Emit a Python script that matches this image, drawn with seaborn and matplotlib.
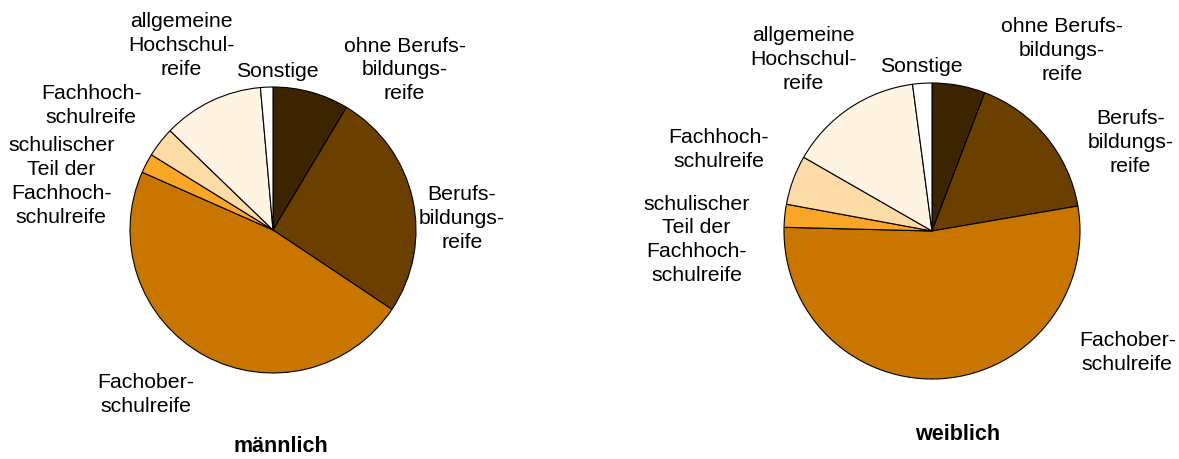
import matplotlib
matplotlib.use("Agg")
import matplotlib.pyplot as plt
import seaborn as sns

# Anteile in Prozent, im Uhrzeigersinn ab 12 Uhr
categories = ["ohne Berufsbildungsreife", "Berufsbildungsreife", "Fachoberschulreife",
              "schulischer Teil der Fachhochschulreife", "Fachhochschulreife",
              "allgemeine Hochschulreife", "Sonstige"]
maennlich = [8.6, 25.8, 47.3, 2.2, 3.4, 11.4, 1.4]
weiblich = [5.8, 16.5, 53.1, 2.5, 5.4, 14.6, 2.1]
labels = ["ohne Berufs-\nbildungs-\nreife", "Berufs-\nbildungs-\nreife", "Fachober-\nschulreife",
          "schulischer\nTeil der\nFachhoch-\nschulreife", "Fachhoch-\nschulreife",
          "allgemeine\nHochschul-\nreife", "Sonstige"]
colors = ["#3d2400", "#6b3f00", "#c87600", "#f9a526", "#fddba6", "#fff3e2", "#ffffff"]

# Label-Positionen relativ zum Kreis (Radius 1)
pos_m = [(0.92, 1.12), (1.32, 0.08), (-0.89, -1.15), (-1.48, 0.34),
         (-1.27, 0.87), (-0.64, 1.29), (0.03, 1.11)]
pos_w = [(0.88, 1.22), (1.34, 0.60), (1.32, -0.82), (-1.59, -0.06),
         (-1.44, 0.55), (-0.87, 1.16), (-0.07, 1.11)]

sns.set_theme(style="white")
plt.rcParams['font.family'] = ['Liberation Sans', 'DejaVu Sans']

W, H = 1179, 459
fig = plt.figure(figsize=(W / 100, H / 100), dpi=100)


def draw(values, positions, title, cx, cy, r, tx, ty):
    ax = fig.add_axes([(cx - r) / W, (H - cy - r) / H, 2 * r / W, 2 * r / H])
    ax.pie(values, colors=colors, startangle=90, counterclock=False, radius=1,
           wedgeprops=dict(edgecolor="black", linewidth=0.8))
    ax.set_xlim(-1, 1)
    ax.set_ylim(-1, 1)
    ax.set_aspect("equal")
    ax.axis("off")
    for lab, (x, y) in zip(labels, positions):
        ax.text(x, y, lab, ha="center", va="center", fontsize=15.3,
                linespacing=1.32, color="black", clip_on=False)
    fig.text(tx / W, 1 - ty / H, title, ha="center", va="center",
             fontsize=15.5, fontweight="bold", color="black")


draw(maennlich, pos_m, "männlich", 273, 230, 143, 281, 447)
draw(weiblich, pos_w, "weiblich", 932, 231, 148, 958, 434)

fig.savefig("out.png", dpi=100, facecolor="white")
